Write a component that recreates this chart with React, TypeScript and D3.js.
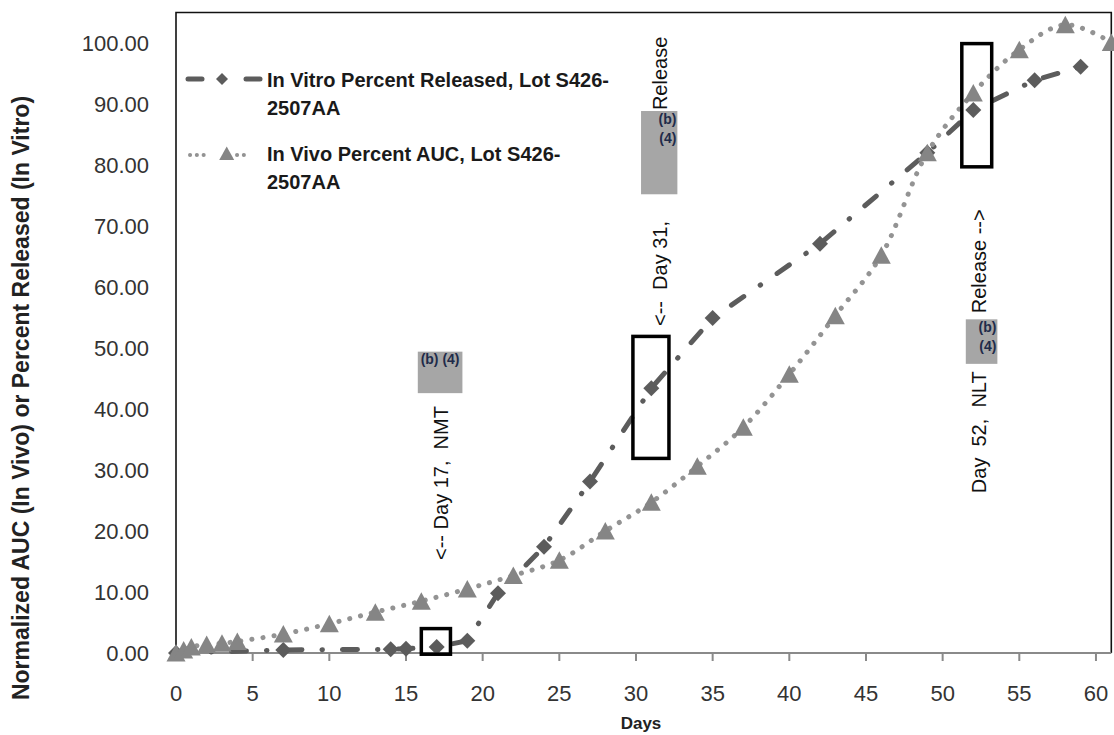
import React from "react";
import * as d3 from "d3";

// ---------- data ----------
const xTicks = [0, 5, 10, 15, 20, 25, 30, 35, 40, 45, 50, 55, 60];
const yTicks = [0, 10, 20, 30, 40, 50, 60, 70, 80, 90, 100];

const vitroDays = [0, 7, 14, 15, 17, 19, 21, 24, 27, 31, 35, 42, 49, 52, 56, 59];
const vitroValues = [0, 0.5, 0.6, 0.7, 1.0, 2.0, 9.8, 17.4, 28.1, 43.4, 54.9, 67.1, 82.0, 89.0, 93.9, 96.1];

const vivoDays = [0, 0.5, 1, 2, 3, 4, 7, 10, 13, 16, 19, 22, 25, 28, 31, 34, 37, 40, 43, 46, 49, 52, 55, 58, 61];
const vivoValues = [0, 0.5, 1.0, 1.4, 1.6, 1.9, 3.1, 4.8, 6.7, 8.5, 10.5, 12.7, 15.2, 20.0, 24.7, 30.6, 37.0, 45.7, 55.3, 65.2, 82.0, 91.8, 98.9, 103.0, 100.1];

const seriesNames = ["In Vitro Percent Released, Lot S426-", "In Vivo Percent AUC, Lot S426-"];
const seriesNames2 = ["2507AA", "2507AA"];

// highlight boxes (day range, value range)
const boxDay0 = [16.0, 29.8, 51.25];
const boxDay1 = [17.9, 32.15, 53.2];
const boxV0 = [-0.2, 31.9, 79.7];
const boxV1 = [4.0, 51.9, 99.9];

// redaction blocks
const redDay0 = [15.77, 30.33, 51.51];
const redDay1 = [18.68, 32.7, 53.57];
const redV0 = [42.6, 75.2, 47.4];
const redV1 = [49.4, 88.85, 54.7];
const redLines = [["(b) (4)"], ["(b)", "(4)"], ["(b)", "(4)"]];

// rotated annotation labels: start point (bottom) in data units
const noteText = ["<-- Day 17,  NMT", "<--  Day 31,", "Release", "Day  52,  NLT", "Release -->"];
const noteDay = [17.74, 32.03, 32.03, 52.84, 52.84];
const noteValue = [15.25, 53.6, 89.0, 26.2, 55.7];

const W = 1114;
const H = 735;
const margin = { left: 176, top: 12.5, right: 2.7, bottom: 82 };

export default function App() {
  const x = d3.scaleLinear().domain([0, 61]).range([margin.left, W - margin.right]);
  const y = d3.scaleLinear().domain([0, 105]).range([H - margin.bottom, margin.top]);

  const vitro = vitroDays.map((d, i) => [d, vitroValues[i]] as [number, number]);
  const vivo = vivoDays.map((d, i) => [d, vivoValues[i]] as [number, number]);

  const lineVitro = d3
    .line<[number, number]>()
    .x((d) => x(d[0]))
    .y((d) => y(d[1]));
  const lineVivo = d3
    .line<[number, number]>()
    .x((d) => x(d[0]))
    .y((d) => y(d[1]))
    .curve(d3.curveCatmullRom.alpha(0.5));

  const diamond = "M0,-8L8,0L0,8L-8,0Z";
  const triangle = "M0,-9L9.5,8.5L-9.5,8.5Z";
  const smallDiamond = "M0,-6L6,0L0,6L-6,0Z";
  const smallTriangle = "M0,-7.5L7.5,6L-7.5,6Z";

  const vitroColor = "#5c5c5c";
  const vivoColor = "#858585";
  const vivoLineColor = "#939393";

  const x0 = x(0);
  const x1 = x(61);
  const yb = y(0);
  const yt = y(105);

  return (
    <svg
      width={W}
      height={H}
      style={{ position: "absolute", left: 0, top: 0, background: "#fff" }}
      fontFamily="'Liberation Sans', Arial, sans-serif"
    >
      <rect x={0} y={0} width={W} height={H} fill="#fff" />
      {/* plot frame */}
      <path d={`M${x0},${yb}V${yt}H${x1}V${yb}`} fill="none" stroke="#111" strokeWidth={1.6} />

      {/* y tick labels */}
      {yTicks.map((t) => (
        <text
          key={"y" + t}
          x={149}
          y={y(t)}
          dy="0.36em"
          textAnchor="end"
          fontSize={22}
          fill="#333"
        >
          {t.toFixed(2)}
        </text>
      ))}

      {/* x axis */}
      <line x1={x0} x2={x1} y1={yb} y2={yb} stroke="#8a8a8a" strokeWidth={2.2} />
      {xTicks.map((t) => (
        <g key={"x" + t}>
          <line x1={x(t)} x2={x(t)} y1={yb} y2={yb + 8} stroke="#8a8a8a" strokeWidth={2} />
          <text x={x(t)} y={701} textAnchor="middle" fontSize={22} fill="#333">
            {t}
          </text>
        </g>
      ))}

      {/* axis titles */}
      <text x={641} y={729} textAnchor="middle" fontSize={17} fontWeight="bold" fill="#222">
        Days
      </text>
      <text
        transform={`translate(29,${(y(0) + y(100)) / 2 + 50}) rotate(-90)`}
        textAnchor="middle"
        fontSize={23}
        fontWeight="bold"
        fill="#222"
      >
        Normalized AUC (In Vivo) or Percent Released (In Vitro)
      </text>

      {/* redaction blocks */}
      {redDay0.map((d0, i) => {
        const rx0 = x(d0);
        const rx1 = x(redDay1[i]);
        const ry0 = y(redV1[i]);
        const ry1 = y(redV0[i]);
        const lines = redLines[i];
        return (
          <g key={"r" + i}>
            <rect x={rx0} y={ry0} width={rx1 - rx0} height={ry1 - ry0} fill="#a6a6a6" />
            {lines.map((l, j) => (
              <text
                key={j}
                x={lines.length === 1 ? (rx0 + rx1) / 2 : rx1 - 1}
                y={ry0 + (lines.length === 1 ? 12 : 13) + j * 19}
                textAnchor={lines.length === 1 ? "middle" : "end"}
                fontSize={14}
                fontWeight="bold"
                fill="#1f2b4a"
              >
                {l}
              </text>
            ))}
          </g>
        );
      })}

      {/* rotated notes */}
      {noteText.map((t, i) => (
        <text
          key={"n" + i}
          transform={`translate(${x(noteDay[i])},${y(noteValue[i])}) rotate(-90)`}
          fontSize={20}
          fill="#111"
          style={{ whiteSpace: "pre" }}
        >
          {t}
        </text>
      ))}

      {/* in vitro series */}
      <path
        d={lineVitro(vitro) || ""}
        fill="none"
        stroke={vitroColor}
        strokeWidth={5}
        strokeLinecap="round"
        strokeDasharray="15 20 0.5 20"
      />
      {vitro.map((p, i) => (
        <path key={"dv" + i} d={diamond} transform={`translate(${x(p[0])},${y(p[1])})`} fill={vitroColor} />
      ))}

      {/* in vivo series */}
      <path
        d={lineVivo(vivo) || ""}
        fill="none"
        stroke={vivoLineColor}
        strokeWidth={5}
        strokeLinecap="round"
        strokeDasharray="0.1 11"
      />
      {vivo.map((p, i) => (
        <path key={"tv" + i} d={triangle} transform={`translate(${x(p[0])},${y(p[1])})`} fill={vivoColor} />
      ))}

      {/* highlight boxes */}
      {boxDay0.map((d0, i) => {
        const bx0 = x(d0);
        const bx1 = x(boxDay1[i]);
        const by0 = y(boxV1[i]);
        const by1 = y(boxV0[i]);
        return (
          <rect
            key={"b" + i}
            x={bx0}
            y={by0}
            width={bx1 - bx0}
            height={by1 - by0}
            fill="none"
            stroke="#000"
            strokeWidth={3.5}
          />
        );
      })}

      {/* legend */}
      <g>
        <line x1={188} x2={202} y1={79} y2={79} stroke={vitroColor} strokeWidth={5} strokeLinecap="round" />
        <line x1={246} x2={260} y1={79} y2={79} stroke={vitroColor} strokeWidth={5} strokeLinecap="round" />
        <path d={smallDiamond} transform="translate(222,79)" fill={vitroColor} />
        <text x={267} y={86.5} fontSize={20} fontWeight="bold" fill="#1a1a1a">
          {seriesNames[0]}
        </text>
        <text x={267} y={115} fontSize={20} fontWeight="bold" fill="#1a1a1a">
          {seriesNames2[0]}
        </text>

        <line x1={190} x2={204} y1={155} y2={155} stroke={vivoLineColor} strokeWidth={4} strokeLinecap="round" strokeDasharray="0.1 6.7" />
        <line x1={237} x2={244} y1={155} y2={155} stroke={vivoLineColor} strokeWidth={4} strokeLinecap="round" strokeDasharray="0.1 6.7" />
        <path d={smallTriangle} transform="translate(226.7,154)" fill={vivoColor} />
        <text x={267} y={161} fontSize={20} fontWeight="bold" fill="#1a1a1a">
          {seriesNames[1]}
        </text>
        <text x={267} y={188.5} fontSize={20} fontWeight="bold" fill="#1a1a1a">
          {seriesNames2[1]}
        </text>
      </g>
    </svg>
  );
}
